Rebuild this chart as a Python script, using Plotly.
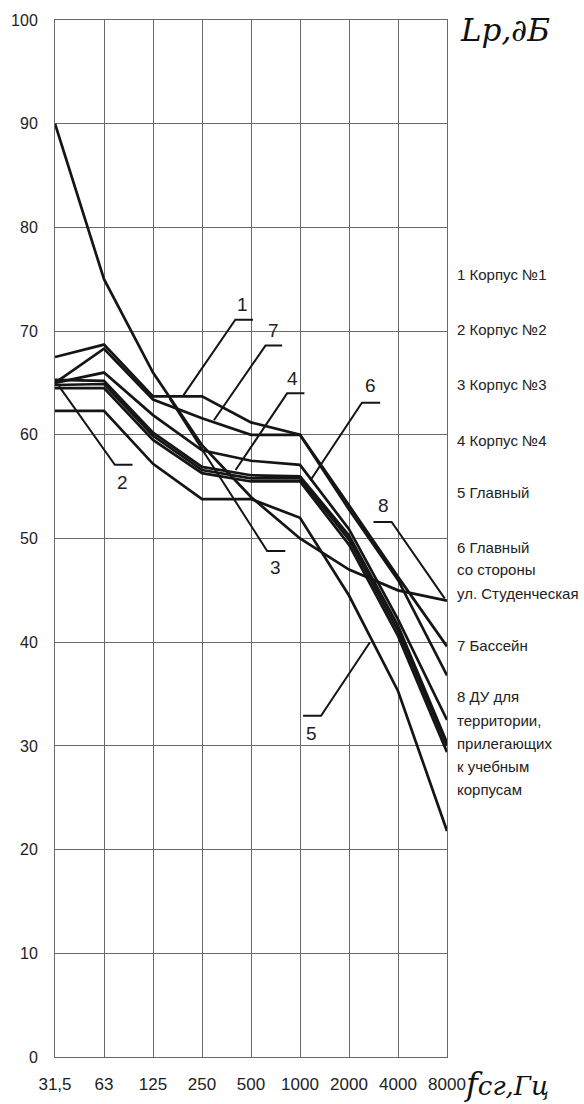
import plotly.graph_objects as go

# ---------------- data ----------------
freq_labels = ["31,5", "63", "125", "250", "500", "1000", "2000", "4000", "8000"]
y_ticks = [0, 10, 20, 30, 40, 50, 60, 70, 80, 90, 100]

curve_1 = [67.5, 68.7, 63.7, 63.7, 61.2, 60.0, 53.2, 46.3, 39.6]
curve_7 = [65.0, 68.3, 63.4, 61.6, 60.0, 60.0, 52.8, 46.0, 36.8]
curve_6 = [65.0, 66.0, 61.9, 58.5, 57.5, 57.1, 50.9, 42.2, 32.5]
curve_4 = [65.3, 65.2, 60.2, 56.9, 56.1, 56.0, 50.3, 41.6, 30.3]
curve_2 = [64.8, 64.9, 59.9, 56.6, 55.8, 55.8, 49.9, 41.1, 30.0]
curve_3 = [64.5, 64.5, 59.5, 56.3, 55.5, 55.5, 49.4, 40.6, 29.4]
curve_5 = [62.3, 62.3, 57.2, 53.8, 53.8, 52.0, 44.5, 35.3, 21.8]
curve_du = [90, 75, 66, 59, 54, 50, 47, 45, 44]

legend_lines = ["1 Корпус №1", "2 Корпус №2", "3 Корпус №3", "4 Корпус №4",
                "5 Главный", "6 Главный", "со стороны", "ул. Студенческая",
                "7 Бассейн", "8 ДУ для", "территории,", "прилегающих",
                "к учебным", "корпусам"]

x_idx = list(range(len(freq_labels)))

# ---------------- figure ----------------
fig = go.Figure()
INK = "#151515"
for name, vals in [("1", curve_1), ("7", curve_7), ("6", curve_6), ("4", curve_4),
                   ("2", curve_2), ("3", curve_3), ("5", curve_5), ("8", curve_du)]:
    fig.add_trace(go.Scatter(x=x_idx, y=vals, mode="lines", name=name,
                             line=dict(color=INK, width=2.7), showlegend=False,
                             hoverinfo="skip"))

# callout leaders (label, text position, leader path) in data coordinates
leaders = [
    ("1", (3.82, 72.6), [(4.04, 71.1), (3.68, 71.1), (2.62, 63.8)]),
    ("7", (4.465, 70.1), [(4.635, 68.6), (4.295, 68.6), (3.243, 61.4)]),
    ("4", (4.84, 65.4), [(5.09, 64.0), (4.737, 64.0), (3.685, 56.6)]),
    ("6", (6.43, 64.75), [(6.636, 63.1), (6.264, 63.1), (5.211, 55.6)]),
    ("2", (1.38, 55.4), [(1.582, 57.1), (1.221, 57.1), (0.081, 64.7)]),
    ("3", (4.50, 47.2), [(4.70, 48.8), (4.33, 48.8), (2.337, 63.5)]),
    ("8", (6.70, 53.2), [(6.5, 51.6), (6.87, 51.6), (7.955, 44.2)]),
    ("5", (5.23, 31.2), [(5.063, 32.9), (5.429, 32.9), (6.428, 40.0)]),
]
for lab, (tx, ty), pts in leaders:
    path = "M " + " L ".join(f"{px},{py}" for px, py in pts)
    fig.add_shape(type="path", path=path, xref="x", yref="y",
                  line=dict(color=INK, width=2))
    fig.add_annotation(x=tx, y=ty, xref="x", yref="y", text=lab, showarrow=False,
                       font=dict(family="Liberation Sans, Arial", size=19, color="#222"))

# legend block on the right (as plain text)
leg_y = [274, 329, 384, 440, 493, 547, 570, 593, 645, 697, 720, 743, 766, 789]
W, H = 584, 1104
L, R, T, B = 55, 137, 20, 47
pw, ph = W - L - R, H - T - B
for txt, yp in zip(legend_lines, leg_y):
    fig.add_annotation(x=(455 - L) / pw, y=(H - B - yp) / ph, xref="paper", yref="paper",
                       text=txt, showarrow=False, xanchor="left", yanchor="middle",
                       font=dict(family="Liberation Sans, Arial", size=15, color="#222"))

fig.add_annotation(x=(458 - L) / pw, y=(H - B - 30) / ph, xref="paper", yref="paper",
                   text="<i>Lp,∂Б</i>", showarrow=False, xanchor="left", yanchor="middle",
                   font=dict(family="DejaVu Serif", size=31, color="#111"))
fig.add_annotation(x=(462 - L) / pw, y=(H - B - 1084) / ph, xref="paper", yref="paper",
                   text="<i><span style='font-size:32px'>f</span>сг,Гц</i>", showarrow=False,
                   xanchor="left", yanchor="middle",
                   font=dict(family="DejaVu Serif", size=26, color="#111"))

GRID = "#6a6a6a"
fig.update_layout(
    width=W, height=H,
    margin=dict(l=L, r=R, t=T, b=B, autoexpand=False),
    paper_bgcolor="white", plot_bgcolor="white",
    xaxis=dict(range=[0, 8], tickmode="array", tickvals=x_idx, ticktext=freq_labels,
               showgrid=True, gridcolor=GRID, gridwidth=1, zeroline=False,
               showline=True, linecolor=GRID, linewidth=1, mirror=True,
               ticks="", ticklabelstandoff=12, automargin=False,
               tickfont=dict(family="Liberation Sans, Arial", size=17, color="#222")),
    yaxis=dict(range=[0, 100], tickmode="array", tickvals=y_ticks,
               showgrid=True, gridcolor=GRID, gridwidth=1, zeroline=False,
               showline=True, linecolor=GRID, linewidth=1, mirror=True,
               ticks="", ticklabelstandoff=13, automargin=False,
               tickfont=dict(family="Liberation Sans, Arial", size=16, color="#222")),
)

fig.write_html("out.html")
